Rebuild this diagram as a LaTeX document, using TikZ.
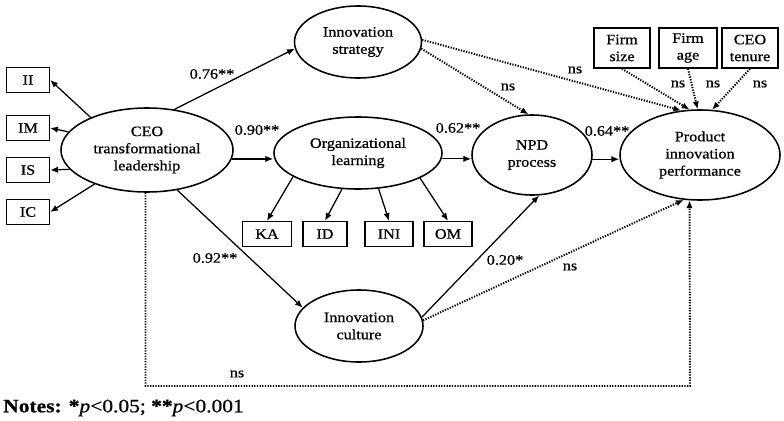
\documentclass[tikz,border=0pt]{standalone}
\usepackage{fontspec}
\setmainfont[FakeStretch=1.13,FakeBold=0.7]{Liberation Serif}
\usetikzlibrary{shapes.geometric,arrows.meta}

\tikzset{
    latent/.style={draw,ellipse,line width=1.1pt,inner sep=0pt,align=center,
        font=\fontsize{10.2}{12.2}\selectfont},
    indicator/.style={draw,rectangle,line width=1.1pt,inner sep=1pt,align=center,
        minimum height=0.62cm,font=\fontsize{10.2}{12}\selectfont},
    coef/.style={inner sep=0pt,font=\fontsize{10.2}{12}\selectfont},
    sig/.style={line width=0.9pt,-{Latex[length=5.5pt,width=4.5pt]}},
    ns/.style={sig,densely dotted,line width=1.4pt}
}

\begin{document}
\begin{tikzpicture}[x=0.025cm,y=-0.025cm]
    \useasboundingbox (0,0) rectangle (784,421);

    % latent constructs
    \node[latent,minimum width=4.3cm,minimum height=2.1cm] (ceo) at (147,150) {CEO\\transformational\\leadership};
    \node[latent,minimum width=3.175cm,minimum height=1.8cm] (strat) at (358,42) {Innovation\\strategy};
    \node[latent,minimum width=4.2cm,minimum height=1.8cm] (org) at (358,153) {Organizational\\learning};
    \node[latent,minimum width=3.2cm,minimum height=1.8cm] (cult) at (359,326) {Innovation\\culture};
    \node[latent,minimum width=3cm,minimum height=2cm] (npd) at (532,155) {NPD\\process};
    \node[latent,minimum width=4cm,minimum height=2.25cm] (perf) at (700,155) {Product\\innovation\\performance};

    % indicators and controls
    \node[indicator,minimum width=1.07cm] (ii) at (28,80) {II};
    \node[indicator,minimum width=1.07cm] (im) at (28,128) {IM};
    \node[indicator,minimum width=1.07cm] (is) at (28,170) {IS};
    \node[indicator,minimum width=1.07cm] (ic) at (28,212) {IC};
    \node[indicator,minimum width=1.22cm] (ka) at (267,234) {KA};
    \node[indicator,minimum width=1.1cm] (id) at (325,234) {ID};
    \node[indicator,minimum width=1.2cm] (ini) at (389,234) {INI};
    \node[indicator,minimum width=1.2cm] (om) at (448,234) {OM};
    \node[indicator,minimum width=1.4cm,minimum height=1cm] (fsize) at (622,48) {Firm\\size};
    \node[indicator,minimum width=1.45cm,minimum height=1cm] (fage) at (688,48) {Firm\\age};
    \node[indicator,minimum width=1.4cm,minimum height=1cm] (tenure) at (750,48) {CEO\\tenure};

    % measurement arrows
    \draw[sig] (ceo.150) -- (ii.east);
    \draw[sig] (ceo.167) -- (im.east);
    \draw[sig] (ceo.194) -- (is.east);
    \draw[sig] (ceo.213) -- (ic.east);
    \draw[sig] (org.200) -- (ka.north);
    \draw[sig] (org.246) -- (id.north);
    \draw[sig] (org.300) -- (ini.north);
    \draw[sig] (org.338) -- (om.north);

    % structural paths
    \draw[sig] (ceo.56) -- (strat.186);
    \draw[sig] (ceo.-6) -- (ceo.-6 -| org.west);
    \draw[sig] (ceo.307) -- (cult.162);
    \draw[sig] (org.-4) -- (org.-4 -| npd.west);
    \draw[sig] (npd.-4) -- (npd.-4 -| perf.west);
    \draw[sig] (cult.8) -- (npd.280);
    \draw[ns] (strat.-6) -- (npd.95);
    \draw[ns] (strat.2) -- (perf.113);
    \draw[ns] (cult.5) -- (perf.250);
    \draw[ns] (fsize.south) -- (perf.103);
    \draw[ns] (fage.south) -- (perf.93);
    \draw[ns] (tenure.south) -- (perf.75);
    \coordinate (corner) at (690,386);
    \draw[ns] (ceo.268) |- (corner) -- (perf.257);

    % coefficients
    \node[coef] at (212,74) {0.76**};
    \node[coef] at (257,130) {0.90**};
    \node[coef] at (458,128) {0.62**};
    \node[coef] at (607,131) {0.64**};
    \node[coef] at (215,258) {0.92**};
    \node[coef] at (505,260) {0.20*};
    \node[coef] at (508,87) {ns};
    \node[coef] at (575,70) {ns};
    \node[coef] at (678,84) {ns};
    \node[coef] at (713,84) {ns};
    \node[coef] at (760,84) {ns};
    \node[coef] at (570,267) {ns};
    \node[coef] at (237,374) {ns};

    \node[anchor=west,inner sep=0pt,font=\fontsize{13.5}{15}\selectfont] (notes) at (3,408)
        {\textbf{Notes:} \textbf{*}\textit{p}<0.05; \textbf{**}\textit{p}<0.001};
\end{tikzpicture}
\end{document}
